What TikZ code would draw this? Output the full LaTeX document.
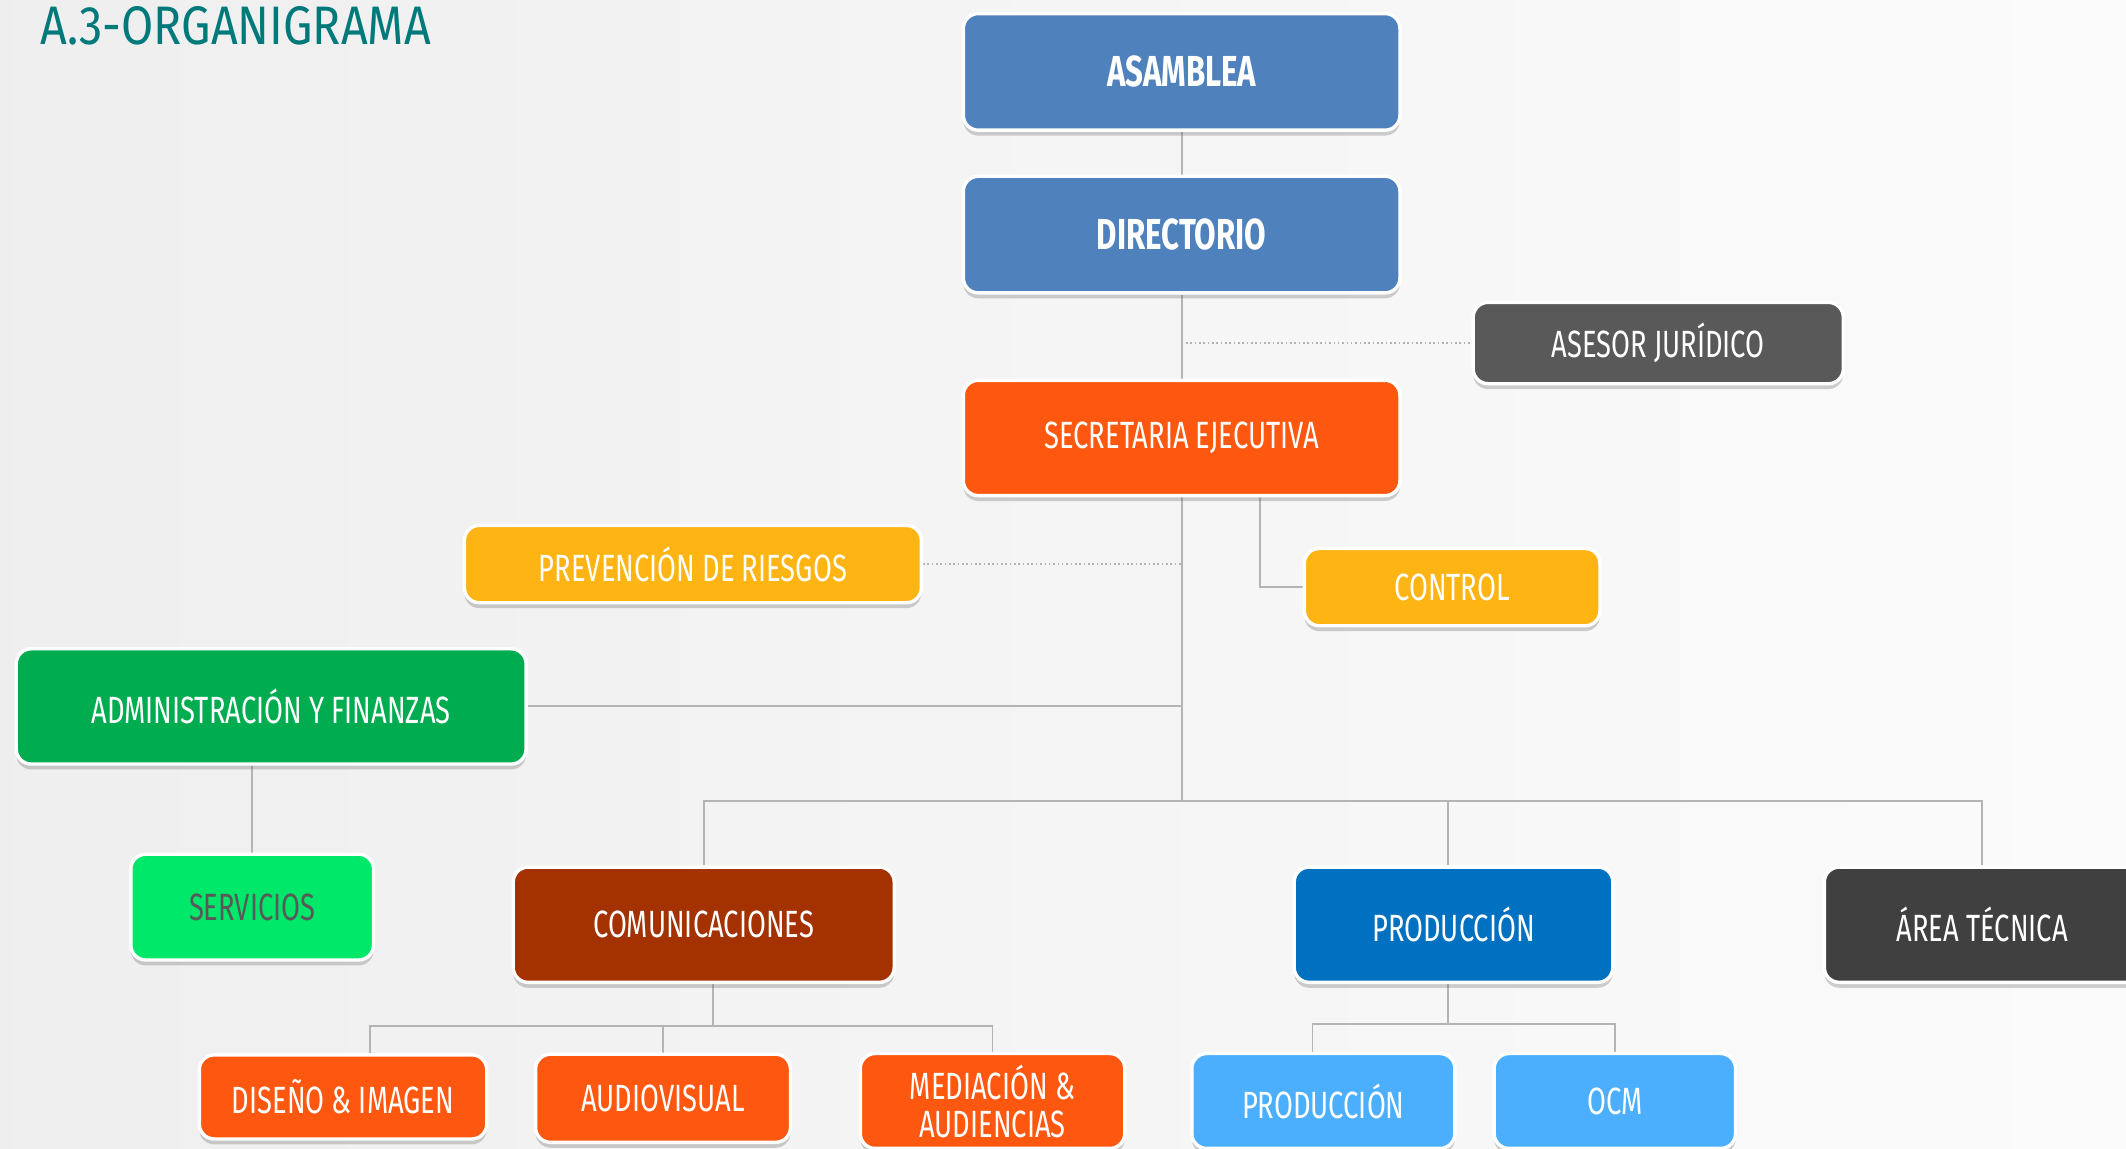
\documentclass[tikz,border=0pt]{standalone}
\usepackage{fontspec}
\setmainfont{Fira Sans}[FakeStretch=0.72]
\newfontfamily\titlefont{Fira Sans}[FakeStretch=0.86]
\usetikzlibrary{shadows}
\pgfdeclarelayer{background}
\pgfsetlayers{background,main}

\definecolor{topblue}{HTML}{4F81BD}
\definecolor{advgray}{HTML}{595959}
\definecolor{secorange}{HTML}{FE570F}
\definecolor{ctlyellow}{HTML}{FEB413}
\definecolor{admgreen}{HTML}{00AC50}
\definecolor{srvgreen}{HTML}{00E86A}
\definecolor{combrown}{HTML}{A33200}
\definecolor{problue}{HTML}{0070C0}
\definecolor{tecgray}{HTML}{404040}
\definecolor{subblue}{HTML}{4BAFFE}
\definecolor{titleteal}{HTML}{00797A}
\definecolor{linkgray}{HTML}{B4B4B4}

\begin{document}
\begin{tikzpicture}
    [
      x=1pt, y=-1pt,
      box/.style={draw=white, line width=2.5pt, rounded corners=11pt, text=white,
        font=\fontsize{28}{28}\selectfont, align=center, inner sep=0pt,
        drop shadow={shadow xshift=0pt, shadow yshift=-4pt, opacity=0.3, fill=black!60}},
      boxsize/.style 2 args={minimum width=#1pt, minimum height=#2pt},
      link/.style={draw=linkgray, line width=1.4pt},
      aside/.style={draw=gray!60, line width=1.2pt, dotted}
    ]
    \useasboundingbox (0,0) rectangle (1568,847);
    \clip (0,0) rectangle (1568,847);

    \node[box, fill=topblue, boxsize={322}{86}, font=\fontsize{32}{32}\selectfont\bfseries] (asm) at (871.5,53) {ASAMBLEA};
    \node[box, fill=topblue, boxsize={322}{86}, font=\fontsize{32}{32}\selectfont\bfseries] (dir) at (871.5,173) {DIRECTORIO};
    \node[box, fill=advgray, boxsize={273}{60}] (ase) at (1223,253) {ASESOR JURÍDICO};
    \node[box, fill=secorange, boxsize={322}{85}] (sec) at (871.5,323) {SECRETARIA EJECUTIVA};
    \node[box, fill=ctlyellow, boxsize={337}{57}] (prev) at (511,416) {PREVENCIÓN DE RIESGOS};
    \node[box, fill=ctlyellow, boxsize={218}{57}] (ctl) at (1071,433) {CONTROL};
    \node[box, fill=admgreen, boxsize={376}{85}] (adm) at (200,521) {ADMINISTRACIÓN Y FINANZAS};
    \node[box, fill=srvgreen, boxsize={179}{78}, text=advgray] (srv) at (186,669) {SERVICIOS};
    \node[box, fill=combrown, boxsize={281}{85}] (com) at (519,682) {COMUNICACIONES};
    \node[box, fill=problue, boxsize={235}{85}] (pro) at (1072,682) {PRODUCCIÓN};
    \node[box, fill=tecgray, boxsize={233}{85}] (tec) at (1462,682) {ÁREA TÉCNICA};
    \node[box, fill=secorange, boxsize={212}{62}] (dis) at (253,809) {DISEÑO \& IMAGEN};
    \node[box, fill=secorange, boxsize={188}{65}] (aud) at (489,810) {AUDIOVISUAL};
    \node[box, fill=secorange, boxsize={195}{70}] (med) at (732,812) {MEDIACIÓN \&\\AUDIENCIAS};
    \node[box, fill=subblue, boxsize={194}{70}] (prl) at (976,812) {PRODUCCIÓN};
    \node[box, fill=subblue, boxsize={178}{70}] (ocm) at (1191,812) {OCM};

    \node[anchor=base west, inner sep=0pt, text=titleteal, font=\titlefont\fontsize{40}{40}\selectfont] (title) at (30,33) {A.3-ORGANIGRAMA};

    \coordinate (bus) at (871.5,591);
    \coordinate (cbus) at (526,757);
    \coordinate (pbus) at (1068,755);

    \begin{pgfonlayer}{background}
      \fill[left color=gray!13, right color=gray!3] (0,0) rectangle (1568,847);
      \draw[link] (asm) -- (dir);
      \draw[link] (dir) -- (sec);
      \draw[aside] (dir.south |- ase.west) -- (ase.west);
      \draw[link] (sec) -- (bus);
      \draw[link] ([xshift=57.5pt]sec.south) |- (ctl.west);
      \draw[aside] (prev.east) -- (prev.east -| bus);
      \draw[link] (adm.east) -- (adm.east -| bus);
      \draw[link] (adm.south -| srv.north) -- (srv.north);
      \draw[link] (com.north) |- (bus) -| (tec.north);
      \draw[link] (bus -| pbus) -- (pbus |- pro.north);
      \draw[link] (com.south -| cbus) -- (cbus);
      \draw[link] ([xshift=20pt]dis.north) |- (cbus) -| (med.north);
      \draw[link] (cbus -| aud.north) -- (aud.north);
      \draw[link] (pbus |- pro.south) -- (pbus);
      \draw[link] ([xshift=-8pt]prl.north) |- (pbus) -| (ocm.north);
    \end{pgfonlayer}
\end{tikzpicture}
\end{document}
